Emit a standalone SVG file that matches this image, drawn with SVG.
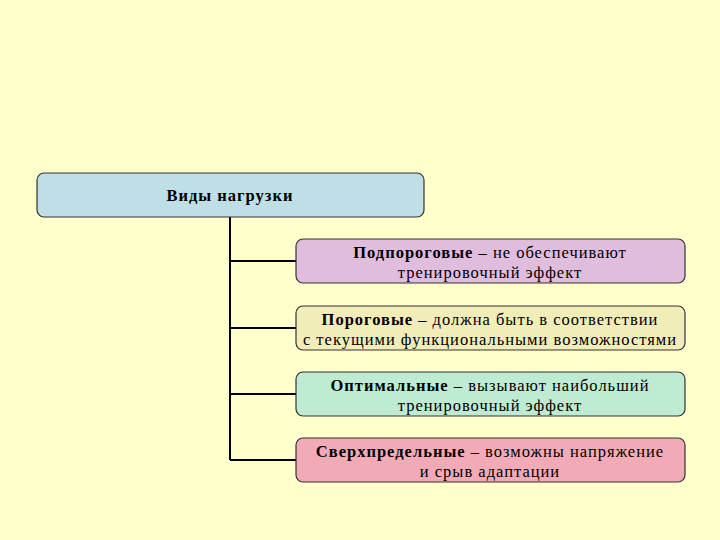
<svg xmlns="http://www.w3.org/2000/svg" width="720" height="540" viewBox="0 0 720 540">
<style>
.b{stroke:#333;stroke-width:1.2}
.t{font-family:"Liberation Serif",serif;font-size:16.5px;letter-spacing:1px;fill:#000;text-anchor:middle}
.c{stroke:#000;stroke-width:2;fill:none}
</style>
<rect width="720" height="540" fill="#FFFFCC"/>
<g id="connectors">
<path class="c" d="M230 217V460M230 261H296M230 328H296M230 394H296M230 460H296"/>
</g>
<g id="root"><rect class="b" x="37" y="173" width="387" height="44" rx="7" fill="#BEDFE6"/>
<text class="t" x="230" y="201" font-weight="bold">Виды нагрузки</text></g>
<g id="n1"><rect class="b" x="296" y="239" width="389" height="44" rx="7" fill="#E0BCDD"/>
<text class="t" x="490" y="258"><tspan font-weight="bold">Подпороговые</tspan> – не обеспечивают</text>
<text class="t" x="490" y="278">тренировочный эффект</text></g>
<g id="n2"><rect class="b" x="296" y="306" width="389" height="44" rx="7" fill="#F1EDB9"/>
<text class="t" x="490" y="325"><tspan font-weight="bold">Пороговые</tspan> – должна быть в соответствии</text>
<text class="t" x="490" y="345">с текущими функциональными возможностями</text></g>
<g id="n3"><rect class="b" x="296" y="372" width="389" height="44" rx="7" fill="#BEEBD1"/>
<text class="t" x="490" y="391"><tspan font-weight="bold">Оптимальные</tspan> – вызывают наибольший</text>
<text class="t" x="490" y="411">тренировочный эффект</text></g>
<g id="n4"><rect class="b" x="296" y="438" width="389" height="44" rx="7" fill="#F2ABB6"/>
<text class="t" x="490" y="457"><tspan font-weight="bold">Сверхпредельные</tspan> – возможны напряжение</text>
<text class="t" x="490" y="477">и срыв адаптации</text></g>
</svg>
